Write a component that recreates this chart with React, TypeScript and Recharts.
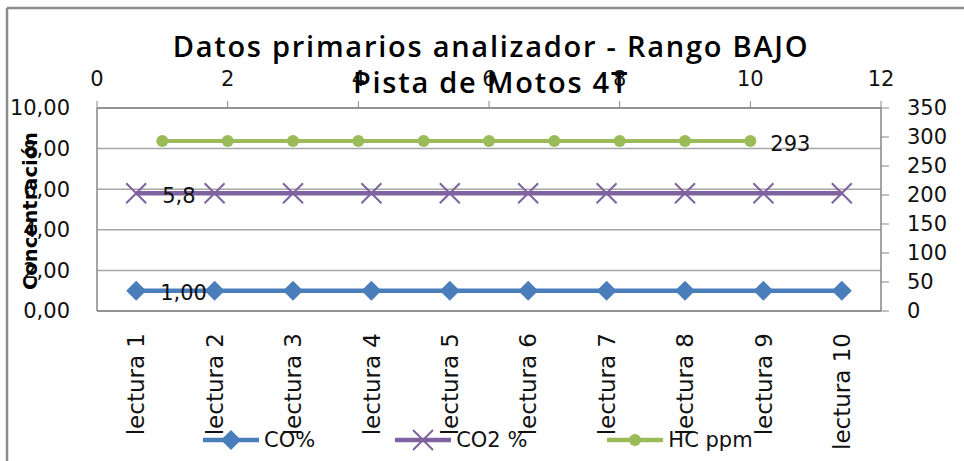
import { ComposedChart, Line, XAxis, YAxis, CartesianGrid, Legend, LabelList } from "recharts";

// lecturas del analizador (rango bajo)
const lecturas = [
  "lectura 1", "lectura 2", "lectura 3", "lectura 4", "lectura 5",
  "lectura 6", "lectura 7", "lectura 8", "lectura 9", "lectura 10",
];
const posicionHC = [1, 2, 3, 4, 5, 6, 7, 8, 9, 10];
const coPct = [1.0, 1.0, 1.0, 1.0, 1.0, 1.0, 1.0, 1.0, 1.0, 1.0];
const co2Pct = [5.8, 5.8, 5.8, 5.8, 5.8, 5.8, 5.8, 5.8, 5.8, 5.8];
const hcPpm = [293, 293, 293, 293, 293, 293, 293, 293, 293, 293];

const ticksSuperior = [0, 2, 4, 6, 8, 10, 12];
const ticksIzq = [0, 2, 4, 6, 8, 10];
const ticksDer = [0, 50, 100, 150, 200, 250, 300, 350];

const data = lecturas.map((name, i) => ({
  name,
  pos: posicionHC[i],
  co: coPct[i],
  co2: co2Pct[i],
  hc: hcPpm[i],
}));

const AZUL = "#4a7ebb";
const MORADO = "#7f63a1";
const VERDE = "#9bbb59";
const GRIS = "#868686";
const FUENTE = "DejaVu Sans";

const tickStyle = { fill: "#111", fontSize: 21, fontFamily: FUENTE };

const coma2 = (v: number) => v.toFixed(2).replace(".", ",");
const comaCorta = (v: number) => String(v).replace(".", ",");

function Rombo(props: any) {
  const { cx, cy, index } = props;
  if (cx == null || cy == null) return null;
  return (
    <path
      key={`r-${index}`}
      d={`M${cx},${cy - 10}L${cx + 10},${cy}L${cx},${cy + 10}L${cx - 10},${cy}Z`}
      fill={AZUL}
    />
  );
}

function Aspa(props: any) {
  const { cx, cy, index } = props;
  if (cx == null || cy == null) return null;
  return (
    <path
      key={`a-${index}`}
      d={`M${cx - 10},${cy - 10}L${cx + 10},${cy + 10}M${cx - 10},${cy + 10}L${cx + 10},${cy - 10}`}
      stroke={MORADO}
      strokeWidth={2}
      fill="none"
    />
  );
}

function Punto(props: any) {
  const { cx, cy, index } = props;
  if (cx == null || cy == null) return null;
  return <circle key={`p-${index}`} cx={cx} cy={cy} r={6} fill={VERDE} />;
}

// etiqueta de valor en un solo punto de la serie, a la derecha del marcador
const etiqueta = (indice: number, sep: number, fmt: (v: number) => string) => (p: any) => {
  if (p.index !== indice) return null;
  const vb = p.viewBox || {};
  const x = (p.x ?? vb.x) + sep;
  const y = p.y ?? vb.y;
  return (
    <text x={x} y={y + 2} dy="0.36em" fill="#111" fontSize={21} fontFamily={FUENTE}>
      {fmt(Number(p.value))}
    </text>
  );
};

function LecturaTick({ x, y, payload }: any) {
  return (
    <text
      transform={`translate(${x},${y + 20}) rotate(-90)`}
      dy="0.36em"
      textAnchor="end"
      {...tickStyle}
      fontSize={23}
    >
      {payload.value}
    </text>
  );
}

function Marcador({ tipo, color }: { tipo: string; color: string }) {
  return (
    <svg width={56} height={22} style={{ display: "block" }}>
      <line x1={0} y1={11} x2={56} y2={11} stroke={color} strokeWidth={4.5} />
      {tipo === "co" && <path d="M28,1L38,11L28,21L18,11Z" fill={AZUL} />}
      {tipo === "co2" && (
        <path d="M18,1L38,21M18,21L38,1" stroke={MORADO} strokeWidth={2} />
      )}
      {tipo === "hc" && <circle cx={28} cy={11} r={6} fill={VERDE} />}
    </svg>
  );
}

function Leyenda({ payload }: any) {
  return (
    <div style={{ display: "flex", gap: 80, alignItems: "center", height: 24 }}>
      {(payload || []).map((it: any) => (
        <div key={it.dataKey} style={{ display: "flex", alignItems: "center", gap: 5 }}>
          <Marcador tipo={it.dataKey} color={it.color} />
          <span style={{ fontSize: 21, fontFamily: FUENTE, color: "#111", whiteSpace: "pre" }}>
            {it.value}
          </span>
        </div>
      ))}
    </div>
  );
}

const tituloStyle = {
  fontFamily: "Open Sans",
  fontWeight: 600,
  fontSize: 29,
  letterSpacing: 1.75,
  fill: "#000",
};

export default function App() {
  return (
    <div style={{ position: "absolute", left: 0, top: 0, width: 964, height: 461, background: "#fff" }}>
      <ComposedChart
        width={964}
        height={461}
        data={data}
        margin={{ top: 0, right: 0, bottom: 0, left: 0 }}
        style={{ fontFamily: FUENTE }}
      >
        <CartesianGrid xAxisId="cat" yAxisId="izq" vertical={false} stroke="#a6a6a6" strokeWidth={1.5} />
        <XAxis
          xAxisId="cat"
          dataKey="name"
          type="category"
          scale="band"
          height={150}
          interval={0}
          tickLine={false}
          tickSize={0}
          axisLine={{ stroke: GRIS, strokeWidth: 1.5 }}
          tick={<LecturaTick />}
        />
        <XAxis
          xAxisId="top"
          dataKey="pos"
          type="number"
          orientation="top"
          domain={[0, 12]}
          ticks={ticksSuperior}
          interval={0}
          height={108}
          tickSize={7}
          tickMargin={15}
          tickLine={{ stroke: GRIS }}
          axisLine={{ stroke: GRIS, strokeWidth: 1.5 }}
          tick={tickStyle}
        />
        <YAxis
          yAxisId="izq"
          domain={[0, 10]}
          ticks={ticksIzq}
          interval={0}
          width={97}
          tickSize={0}
          tickMargin={27}
          tickLine={false}
          axisLine={{ stroke: GRIS, strokeWidth: 1.5 }}
          tickFormatter={coma2}
          tick={tickStyle}
        />
        <YAxis
          yAxisId="der"
          orientation="right"
          domain={[0, 350]}
          ticks={ticksDer}
          interval={0}
          width={83}
          tickSize={8}
          tickMargin={18}
          tickLine={{ stroke: GRIS }}
          axisLine={{ stroke: GRIS, strokeWidth: 1.5 }}
          tick={tickStyle}
        />
        <Legend
          layout="horizontal"
          verticalAlign="middle"
          align="center"
          content={<Leyenda />}
          wrapperStyle={{ left: 203, top: 428, width: "auto", height: 24 }}
        />
        <Line
          xAxisId="cat"
          yAxisId="izq"
          dataKey="co"
          name="CO%"
          stroke={AZUL}
          strokeWidth={4.5}
          dot={Rombo}
          activeDot={false}
          isAnimationActive={false}
        >
          <LabelList dataKey="co" content={etiqueta(0, 24, coma2)} />
        </Line>
        <Line
          xAxisId="cat"
          yAxisId="izq"
          dataKey="co2"
          name="CO2 %"
          stroke={MORADO}
          strokeWidth={4.5}
          dot={Aspa}
          activeDot={false}
          isAnimationActive={false}
        >
          <LabelList dataKey="co2" content={etiqueta(0, 26, comaCorta)} />
        </Line>
        <Line
          xAxisId="top"
          yAxisId="der"
          dataKey="hc"
          name="HC ppm"
          stroke={VERDE}
          strokeWidth={4}
          dot={Punto}
          activeDot={false}
          isAnimationActive={false}
        >
          <LabelList dataKey="hc" content={etiqueta(9, 20, (v) => String(v))} />
        </Line>
      </ComposedChart>

      <svg
        width={964}
        height={461}
        style={{ position: "absolute", left: 0, top: 0, pointerEvents: "none" }}
      >
        <line x1={7} y1={8} x2={964} y2={8} stroke="#8c8c8c" strokeWidth={2.5} />
        <line x1={7} y1={8} x2={7} y2={461} stroke="#8c8c8c" strokeWidth={2.5} />
        <text x={491} y={57} textAnchor="middle" {...tituloStyle}>
          Datos primarios analizador - Rango BAJO
        </text>
        <text x={491} y={93} textAnchor="middle" {...tituloStyle}>
          Pista de Motos 4T
        </text>
        <text
          transform="translate(37,211) rotate(-90)"
          textAnchor="middle"
          fontFamily={FUENTE}
          fontWeight="bold"
          fontSize={19.5}
          fill="#000"
        >
          Concentración
        </text>
      </svg>
    </div>
  );
}
